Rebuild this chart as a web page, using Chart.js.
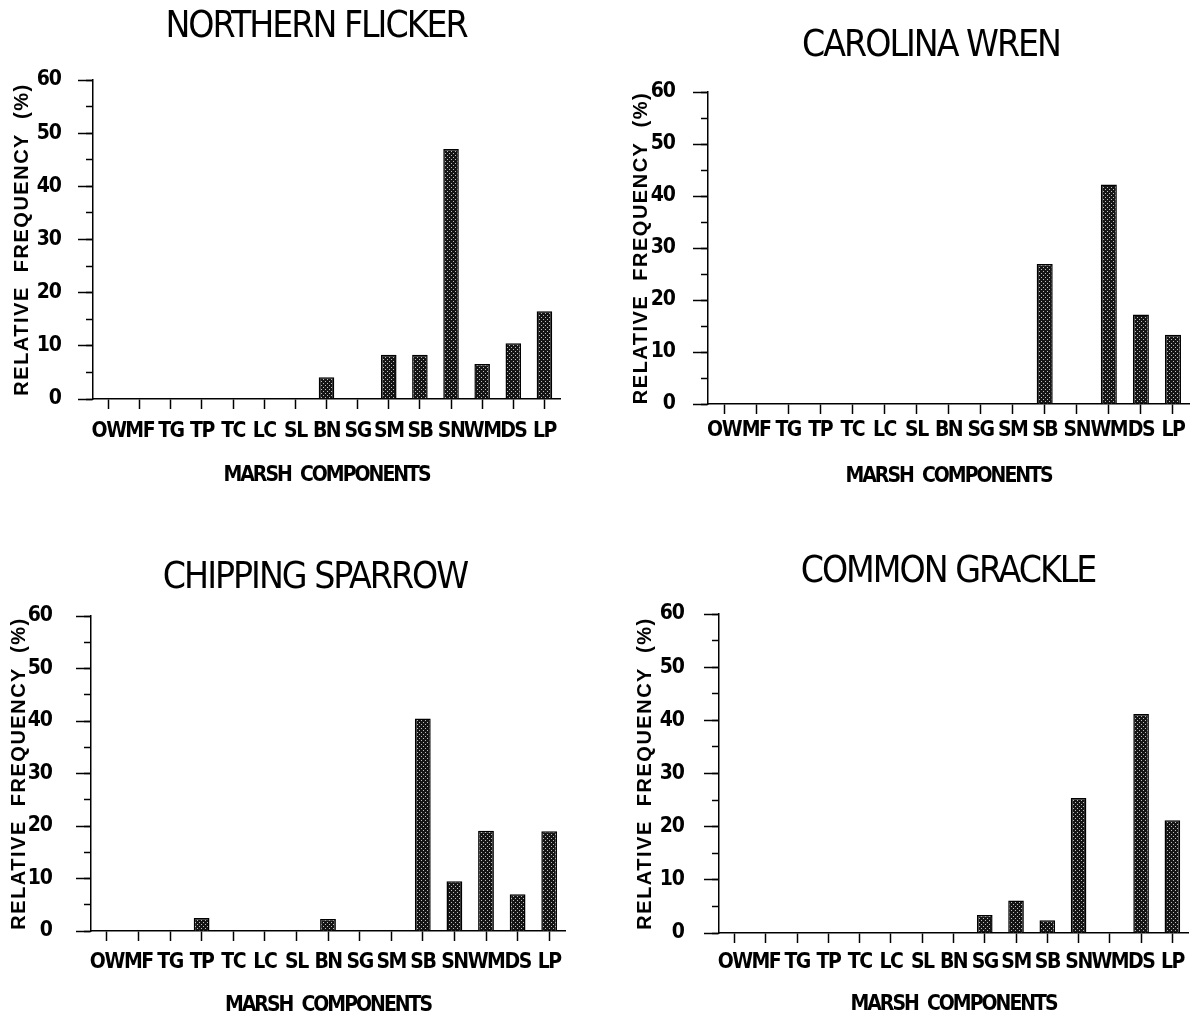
<!DOCTYPE html>
<html>
<head>
<meta charset="utf-8">
<script src="https://cdn.jsdelivr.net/npm/chart.js@4.4.1/dist/chart.umd.min.js"></script>
<style>
  html, body { margin: 0; padding: 0; background: #fff; overflow: hidden; }
  body { width: 1191px; height: 1022px; position: relative; }
  canvas { position: absolute; }
</style>
</head>
<body>
<canvas id="flicker"></canvas>
<canvas id="wren"></canvas>
<canvas id="sparrow"></canvas>
<canvas id="grackle"></canvas>
<script>
// marsh components on the x axis
const categories = ["OW", "MF", "TG", "TP", "TC", "LC", "SL", "BN", "SG", "SM", "SB", "SN", "WM", "DS", "LP"];

// relative frequency (%) per component
const flickerValues = [0, 0, 0, 0, 0, 0, 0, 4.1, 0, 8.3, 8.3, 47.0, 6.6, 10.5, 16.5];
const wrenValues = [0, 0, 0, 0, 0, 0, 0, 0, 0, 0, 26.9, 0, 42.2, 17.2, 13.3];
const sparrowValues = [0, 0, 0, 2.5, 0, 0, 0, 2.3, 0, 0, 40.5, 9.5, 19.1, 7.0, 19.0];
const grackleValues = [0, 0, 0, 0, 0, 0, 0, 0, 3.4, 6.1, 2.4, 25.4, 0, 41.2, 21.2];

const yTickValues = [0, 10, 20, 30, 40, 50, 60];
const yMinorTickValues = [0, 5, 10, 15, 20, 25, 30, 35, 40, 45, 50, 55, 60];

const yTitle = "RELATIVE  FREQUENCY  (%)";
const xTitle = "MARSH  COMPONENTS";

const NARROW = "'Liberation Sans Narrow', 'DejaVu Sans Condensed', 'Arial Narrow', sans-serif";
const WIDE = "'Liberation Sans', Arial, sans-serif";

Chart.defaults.color = "#000";
Chart.defaults.font.family = NARROW;

// dark stipple fill like the printed bars
function stipple() {
  const c = document.createElement("canvas");
  c.width = 4;
  c.height = 4;
  const g = c.getContext("2d");
  g.fillStyle = "#151515";
  g.fillRect(0, 0, 4, 4);
  g.fillStyle = "#bdbdbd";
  g.fillRect(1, 1, 1, 1);
  g.fillRect(3, 3, 1, 1);
  return g.createPattern(c, "repeat");
}

function keepTicks(values) {
  return (s) => {
    s.ticks.splice(0, s.ticks.length, ...values.map((v) => ({ value: v })));
  };
}

// printed lettering: spaced y title, squeezed condensed labels
function spaced(target, method, spacing) {
  if (!target || target["_sp_" + method]) return;
  const orig = target[method];
  target[method] = function (...args) {
    const ctx = this.ctx;
    ctx.save();
    ctx.letterSpacing = spacing;
    orig.apply(this, args);
    ctx.restore();
  };
  target["_sp_" + method] = true;
}

const letterSpacingPlugin = {
  id: "letterSpacingPlugin",
  beforeDraw(chart) {
    spaced(chart.scales.y, "drawTitle", "1.5px");
    spaced(chart.scales.y, "drawLabels", "-1px");
    spaced(chart.scales.x, "drawLabels", "-1.5px");
    spaced(chart.scales.x, "drawTitle", "-2px");
    spaced(chart.titleBlock, "draw", "-2px");
  },
};

function makePanel(id, title, values, p) {
  const el = document.getElementById(id);
  // extra room at the right so the title centres where it was printed
  const spacerWidth = 2 * p.titleX - p.area.r - p.left;
  const width = p.area.r - p.left + spacerWidth;
  el.width = width;
  el.height = p.height;
  el.style.left = p.left + "px";
  el.style.top = p.top + "px";

  const cl = p.area.l - p.left;
  const ct = p.area.t - p.top;
  const cb = p.area.b - p.top;
  const titleLH = 37 * 1.2;
  const titleTop = p.titleY - p.top - titleLH / 2;
  const xHeight = p.height - cb;

  return new Chart(el, {
    type: "bar",
    data: {
      labels: categories,
      datasets: [
        {
          data: values,
          xAxisID: "x",
          yAxisID: "y",
          backgroundColor: stipple(),
          borderColor: "#000",
          borderWidth: 1.5,
          barPercentage: 0.5,
          categoryPercentage: 1,
        },
      ],
    },
    options: {
      responsive: false,
      animation: false,
      devicePixelRatio: 1,
      layout: { autoPadding: false, padding: 0 },
      plugins: {
        legend: { display: false },
        tooltip: { enabled: false },
        title: {
          display: true,
          text: title,
          color: "#000",
          font: { family: NARROW, size: 37, weight: "normal", lineHeight: 1.2 },
          padding: { top: titleTop, bottom: ct - titleTop - titleLH },
        },
      },
      scales: {
        x: {
          type: "category",
          afterFit: (s) => { s.height = xHeight; },
          border: { display: true, color: "#000", width: 1.5 },
          grid: {
            display: true,
            offset: false,
            drawOnChartArea: false,
            drawTicks: true,
            tickLength: 10,
            tickColor: "#000",
            tickWidth: 1.5,
          },
          ticks: {
            autoSkip: false,
            maxRotation: 0,
            minRotation: 0,
            padding: p.xLabelGap - 10 - 13.6,
            font: { family: NARROW, size: 21, weight: "bold", lineHeight: 1.2 },
          },
          title: {
            display: true,
            text: xTitle,
            font: { family: NARROW, size: 21, weight: "bold", lineHeight: 1.2 },
            padding: { top: 0, bottom: p.height - (p.xTitleY - p.top) - 12.6 },
          },
        },
        y: {
          type: "linear",
          position: "left",
          weight: 1,
          min: 0,
          max: 60,
          afterFit: (s) => { s.width = cl; },
          afterBuildTicks: keepTicks(yTickValues),
          border: { display: true, color: "#000", width: 1.5 },
          grid: {
            display: true,
            drawOnChartArea: false,
            drawTicks: true,
            tickLength: 15,
            tickColor: "#000",
            tickWidth: 1.5,
          },
          ticks: {
            padding: p.yLabelGap - 15,
            font: { family: NARROW, size: 21, weight: "bold" },
          },
          title: {
            display: true,
            text: yTitle,
            font: { family: WIDE, size: 20, weight: "bold", lineHeight: 1.2 },
            padding: { top: p.yTitleX - p.left - 12, bottom: 0 },
          },
        },
        yMinor: {
          type: "linear",
          axis: "y",
          position: "left",
          weight: 0,
          min: 0,
          max: 60,
          afterFit: (s) => { s.width = 0; },
          afterBuildTicks: keepTicks(yMinorTickValues),
          border: { display: false },
          grid: {
            display: true,
            drawOnChartArea: false,
            drawTicks: true,
            tickLength: 7,
            tickColor: "#000",
            tickWidth: 1.5,
          },
          ticks: { display: false },
        },
        spacer: {
          type: "linear",
          axis: "y",
          position: "right",
          afterFit: (s) => { s.width = spacerWidth; },
          border: { display: false },
          grid: { display: false },
          ticks: { display: false },
        },
      },
    },
    plugins: [letterSpacingPlugin],
  });
}

makePanel("flicker", "NORTHERN FLICKER", flickerValues, {
  left: 0, top: 0, height: 511,
  area: { l: 93, r: 560, t: 80, b: 399 },
  titleX: 316, titleY: 27, yTitleX: 22, yLabelGap: 32, xLabelGap: 34, xTitleY: 476,
});
makePanel("wren", "CAROLINA WREN", wrenValues, {
  left: 600, top: 0, height: 511,
  area: { l: 708, r: 1189, t: 92, b: 404 },
  titleX: 931, titleY: 46, yTitleX: 641, yLabelGap: 33, xLabelGap: 28, xTitleY: 477,
});
makePanel("sparrow", "CHIPPING SPARROW", sparrowValues, {
  left: 0, top: 511, height: 511,
  area: { l: 91, r: 565, t: 616, b: 931 },
  titleX: 315, titleY: 578, yTitleX: 19, yLabelGap: 39, xLabelGap: 33, xTitleY: 1006,
});
makePanel("grackle", "COMMON GRACKLE", grackleValues, {
  left: 600, top: 511, height: 511,
  area: { l: 719, r: 1188, t: 614, b: 933 },
  titleX: 948, titleY: 572, yTitleX: 645, yLabelGap: 35, xLabelGap: 31, xTitleY: 1005,
});
</script>
</body>
</html>
